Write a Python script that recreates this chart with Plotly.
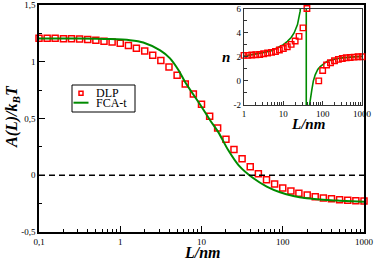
import plotly.graph_objects as go

# ---------------- data ----------------
L_dlp = [0.1, 0.126, 0.158, 0.2, 0.251, 0.316, 0.398, 0.501, 0.631, 0.794,
         1, 1.26, 1.58, 2, 2.51, 3.16, 3.98, 5.01, 6.31, 7.94,
         10, 12.6, 15.8, 20, 25.1, 31.6, 39.8, 50.1, 63.1, 79.4,
         100, 126, 158, 200, 251, 316, 398, 501, 631, 794, 1000]
A_dlp = [1.206, 1.206, 1.206, 1.203, 1.203, 1.200, 1.197, 1.189, 1.180, 1.175,
         1.162, 1.143, 1.120, 1.094, 1.058, 1.011, 0.953, 0.882, 0.804, 0.716,
         0.625, 0.519, 0.416, 0.318, 0.226, 0.145, 0.075, 0.014, -0.039, -0.077,
         -0.112, -0.139, -0.159, -0.174, -0.189, -0.200, -0.207, -0.215, -0.221, -0.224, -0.227]

L_fca = [0.1, 0.3, 0.75, 1.32, 1.92, 3.1, 4.1, 5.2, 6.25, 10, 12.7, 16.1, 21.3,
         28.5, 43.6, 63.5, 92.6, 135, 197, 347, 505, 1000]
A_fca = [1.205, 1.205, 1.200, 1.190, 1.170, 1.100, 1.030, 0.927, 0.824, 0.604, 0.487,
         0.380, 0.222, 0.090, -0.027, -0.100, -0.150, -0.183, -0.203, -0.218, -0.224, -0.233]

# inset: n(L)
L_n_dlp = [1, 1.26, 1.58, 2, 2.51, 3.16, 3.98, 5.01, 6.31, 7.94,
           10, 12.6, 15.8, 20, 25.1, 31.6, 39.8, 50.1, 63.1, 79.4,
           100, 126, 158, 200, 251, 316, 398, 501, 631, 794, 1000]
n_dlp = [2.11, 2.11, 2.14, 2.17, 2.19, 2.25, 2.31, 2.36, 2.44, 2.56,
         2.69, 2.83, 3.03, 3.31, 3.69, 4.39, 6.0, None, None, 0.0,
         0.86, 1.31, 1.50, 1.67, 1.78, 1.86, 1.92, 1.94, 1.97, 2.00, 2.00]

L_n_fca = [1, 2, 3.23, 5, 7.1, 10, 12.7, 15.8, 18.8, 22.9, 26.8, 30, 34, 38.2,
           38.4, 42, 46.4, 53, 58, 64.6, 75, 86.6, 100, 128, 180, 280, 500, 1000]
n_fca = [2.05, 2.2, 2.36, 2.5, 2.72, 3.0, 3.28, 3.6, 3.97, 4.67, 5.78, 7.2, 10.5, 40,
         -40, -6, -2.0, -0.75, 0.0, 0.5, 0.95, 1.19, 1.35, 1.61, 1.76, 1.89, 1.97, 2.03]

x_main_ticks = [0.1, 1, 10, 100, 1000]
x_main_text = ["0,1", "1", "10", "100", "1000"]
y_main_ticks = [-0.5, 0, 0.5, 1, 1.5]
y_main_text = ["-0,5", "0", "0,5", "1", "1,5"]
x_in_ticks = [1, 10, 100, 1000]
x_in_text = ["1", "10", "100", "1000"]
y_in_ticks = [-2, 0, 2, 4, 6]
y_in_text = ["-2", "0", "2", "4", "6"]
legend_names = ["DLP", "FCA-t"]

minor_log = [m * 10 ** e for e in range(-1, 3) for m in range(2, 10)]

RED = "#ff0000"
GREEN = "#008b00"
FONT = "Liberation Serif, Times New Roman, Times, serif"

W, H = 374, 260
def px_x(p): return p / W
def px_y(p): return (H - p) / H

fig = go.Figure()

fig.add_trace(go.Scatter(x=L_dlp, y=A_dlp, mode="markers", name=legend_names[0],
                         marker=dict(symbol="square-open", size=6, color=RED,
                                     line=dict(width=1.5, color=RED)),
                         cliponaxis=False, xaxis="x", yaxis="y", showlegend=False))
fig.add_trace(go.Scatter(x=L_fca, y=A_fca, mode="lines", name=legend_names[1],
                         line=dict(color=GREEN, width=2, shape="spline", smoothing=0.8),
                         xaxis="x", yaxis="y", showlegend=False))
fig.add_trace(go.Scatter(x=[0.1, 1000], y=[0, 0], mode="lines", showlegend=False,
                         line=dict(color="black", width=1.3, dash="6px,4px"),
                         xaxis="x", yaxis="y", hoverinfo="skip"))

fig.add_trace(go.Scatter(x=L_n_fca, y=n_fca, mode="lines", showlegend=False,
                         line=dict(color=GREEN, width=1.6),
                         xaxis="x2", yaxis="y2"))
fig.add_trace(go.Scatter(x=L_n_dlp, y=n_dlp, mode="markers", showlegend=False,
                         marker=dict(symbol="square-open", size=5.5, color=RED,
                                     line=dict(width=1.4, color=RED)),
                         cliponaxis=False, xaxis="x2", yaxis="y2"))

tickfont = dict(family=FONT, size=9, color="black")

fig.update_layout(
    template="none",
    width=W, height=H,
    margin=dict(l=0, r=0, t=0, b=0, autoexpand=False),
    paper_bgcolor="white", plot_bgcolor="white",
    showlegend=False,
    font=dict(family=FONT, color="black"),
    xaxis=dict(type="log", range=[-1, 3], domain=[px_x(39), px_x(364)],
               showline=True, linecolor="black", linewidth=1.5, mirror=True,
               showgrid=False, zeroline=False, automargin=False,
               ticks="inside", ticklen=6, tickwidth=1, tickcolor="black",
               tickvals=x_main_ticks, ticktext=x_main_text, tickfont=tickfont,
               ticklabeloverflow="allow",
               minor=dict(tickvals=minor_log, ticks="inside", ticklen=3,
                          tickcolor="black", showgrid=False),
               anchor="y"),
    yaxis=dict(range=[-0.5, 1.5], domain=[px_y(232), px_y(5)],
               showline=True, linecolor="black", linewidth=1.5, mirror=True,
               showgrid=False, zeroline=False, automargin=False,
               ticks="inside", ticklen=6, tickwidth=1, tickcolor="black",
               tickvals=y_main_ticks, ticktext=y_main_text, tickfont=tickfont,
               ticklabeloverflow="allow",
               minor=dict(dtick=0.25, tick0=0, ticks="inside", ticklen=3,
                          tickcolor="black", showgrid=False),
               anchor="x"),
    xaxis2=dict(type="log", range=[0, 3], domain=[px_x(244), px_x(362)],
                showline=True, linecolor="#333333", linewidth=1.2, mirror=True,
                showgrid=False, zeroline=False, automargin=False,
                ticks="inside", ticklen=4, tickwidth=1, tickcolor="#333333",
                tickvals=x_in_ticks, ticktext=x_in_text, tickfont=tickfont,
                ticklabeloverflow="allow",
                minor=dict(tickvals=[v for v in minor_log if v > 1], ticks="inside",
                           ticklen=2.5, tickcolor="#333333", showgrid=False),
                anchor="y2"),
    yaxis2=dict(range=[-2, 6], domain=[px_y(105), px_y(8.5)],
                showline=True, linecolor="#333333", linewidth=1.2, mirror=True,
                showgrid=False, zeroline=False, automargin=False,
                ticks="inside", ticklen=4, tickwidth=1, tickcolor="#333333",
                tickvals=y_in_ticks, ticktext=y_in_text, tickfont=tickfont,
                ticklabeloverflow="allow",
                minor=dict(dtick=1, tick0=0, ticks="inside", ticklen=2.5,
                           tickcolor="#333333", showgrid=False),
                anchor="x2"),
)

# white background for the inset
fig.add_shape(type="rect", xref="paper", yref="paper",
              x0=px_x(244), x1=px_x(362), y0=px_y(105), y1=px_y(8.5),
              fillcolor="white", line=dict(width=0), layer="below")

# legend box (drawn by hand to match the compact original)
fig.add_shape(type="rect", xref="paper", yref="paper",
              x0=px_x(72), x1=px_x(135), y0=px_y(112), y1=px_y(85),
              fillcolor="white", line=dict(color="black", width=1), layer="above")
fig.add_shape(type="rect", xref="paper", yref="paper",
              x0=px_x(79), x1=px_x(83), y0=px_y(95.3), y1=px_y(91.3),
              fillcolor="white", line=dict(color=RED, width=1.5), layer="above")
fig.add_shape(type="line", xref="paper", yref="paper",
              x0=px_x(73.5), x1=px_x(88.5), y0=px_y(102.7), y1=px_y(102.7),
              line=dict(color=GREEN, width=2), layer="above")
legend_font = dict(family=FONT, size=12, color="black")
fig.add_annotation(text=legend_names[0], xref="paper", yref="paper",
                   x=px_x(95), y=px_y(93.3), xanchor="left", yanchor="middle",
                   showarrow=False, font=legend_font, borderpad=0)
fig.add_annotation(text=legend_names[1], xref="paper", yref="paper",
                   x=px_x(95), y=px_y(103.3), xanchor="left", yanchor="middle",
                   showarrow=False, font=legend_font, borderpad=0)

title_font = dict(family=FONT, size=16, color="black")
fig.add_annotation(text="<b><i>L/nm</i></b>", xref="paper", yref="paper",
                   x=px_x(203), y=px_y(252), xanchor="center", yanchor="middle",
                   showarrow=False, font=title_font, borderpad=0)
fig.add_annotation(text="<b><i>A(L)/k<sub>B</sub>T</i></b>", xref="paper", yref="paper",
                   x=px_x(13), y=px_y(117), xanchor="center", yanchor="middle",
                   showarrow=False, textangle=-90, font=title_font, borderpad=0)
fig.add_annotation(text="<b><i>n</i></b>", xref="paper", yref="paper",
                   x=px_x(226), y=px_y(57), xanchor="center", yanchor="middle",
                   showarrow=False, font=dict(family=FONT, size=15, color="black"), borderpad=0)
fig.add_annotation(text="<b><i>L/nm</i></b>", xref="paper", yref="paper",
                   x=px_x(308), y=px_y(124), xanchor="center", yanchor="middle",
                   showarrow=False, font=dict(family=FONT, size=15, color="black"), borderpad=0)

fig.write_html("out.html", config={"displayModeBar": False},
               post_script="document.body.style.margin='0';document.body.style.padding='0';"
                           "document.documentElement.style.margin='0';")
